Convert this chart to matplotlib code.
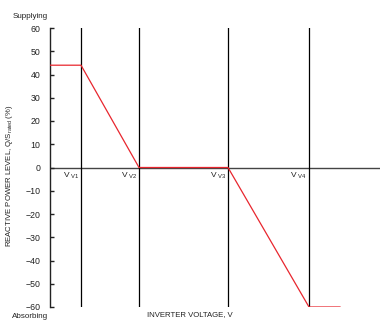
import matplotlib
matplotlib.use("Agg")
import matplotlib.pyplot as plt

plt.rcParams['font.family'] = ['Liberation Sans', 'DejaVu Sans']

# Data (arbitrary voltage units along x)
v_labels = ["V1", "V2", "V3", "V4"]
v_points = [31, 89, 178, 259]
curve_x = [0, 31, 89, 178, 259, 290]
curve_y = [44, 44, 0, 0, -60, -60]
y_ticks = [60, 50, 40, 30, 20, 10, 0, -10, -20, -30, -40, -50, -60]

fig = plt.figure(figsize=(3.8, 3.22), dpi=100)
ax = fig.add_axes([50/380, 15/322, 330/380, 279/322])
ax.set_xlim(0, 330)
ax.set_ylim(-60, 60)

for s in ['top', 'right', 'bottom']:
    ax.spines[s].set_visible(False)
ax.spines['left'].set_linewidth(1.0)
ax.spines['left'].set_color('#222222')

ax.set_xticks([])
ax.set_yticks(y_ticks)
ax.set_yticklabels([str(t).replace('-', '\u2212') for t in y_ticks])
ax.tick_params(axis='y', direction='in', length=3, width=1, labelsize=6.3,
               pad=7, colors='#222222')

ax.axhline(0, color='#444444', lw=1.0, zorder=1)
for v, lab in zip(v_points, v_labels):
    ax.axvline(v, color='black', lw=0.9, zorder=1)
    ax.text(v - 1.5, -1.5, "V " + r"$\mathregular{_{" + lab + "}}$", ha='right', va='top',
            fontsize=6, color='#222222')

ax.plot(curve_x, curve_y, color='#e8262e', lw=0.9, zorder=3)

ax.set_ylabel(r"REACTIVE POWER LEVEL, Q/S$\mathregular{_{rated}}$ (%)", fontsize=5.6,
              color='#222222')
ax.yaxis.set_label_coords(-0.105, 0.47)

fig.text(30/380, 1 - 16/322, "Supplying", ha='center', va='center', fontsize=5.8, color='#222222')
fig.text(30/380, 1 - 317/322, "Absorbing", ha='center', va='center', fontsize=5.8, color='#222222')
fig.text(190/380, 1 - 315/322, "INVERTER VOLTAGE, V", ha='center', va='center', fontsize=5.6,
         color='#222222')

fig.savefig("out.png", dpi=100)
